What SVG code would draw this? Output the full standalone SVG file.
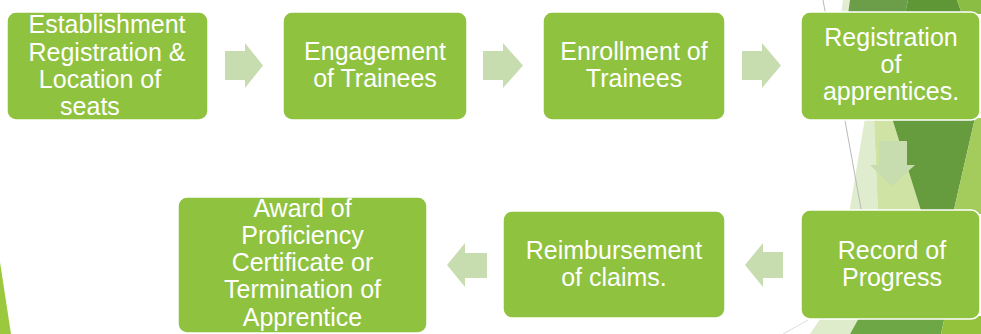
<svg xmlns="http://www.w3.org/2000/svg" width="981" height="334" viewBox="0 0 981 334">
<style>
.box{fill:#8fc23f;stroke:#ffffff;stroke-width:1.5}
.arr{fill:#c7ddb0}
.t{font-family:"Liberation Sans",Arial,sans-serif;font-size:25px;fill:#ffffff;text-anchor:middle}
</style>
<rect width="981" height="334" fill="#ffffff"/>
<g id="background">
<polygon points="0,262 11,334 0,334" fill="#9cc83f"/>
<polygon points="843,0 850,0 848,14 841,14" fill="#e3edd3"/>
<polygon points="850,0 908,0 905,14 848,14" fill="#6c9d48"/>
<polygon points="908,0 957,0 962,14 905,14" fill="#5f9636"/>
<polygon points="957,0 981,0 981,14 962,14" fill="#8bbd44"/>
<polygon points="865,118 874,118 878,214 849,214" fill="#e0ecce"/>
<polygon points="874,118 892,118 922,214 878,214" fill="#cfe3a5"/>
<polygon points="892,118 975,118 953,214 922,214" fill="#669b3e"/>
<polygon points="975,118 981,118 981,214 953,214" fill="#a3cc5c"/>
<line x1="823" y1="0" x2="862" y2="214" stroke="#b9b9b9" stroke-width="1"/>
<polygon points="822,316 860,316 850,334 810,334" fill="#dfeccb"/>
<polygon points="860,316 945,316 941,334 850,334" fill="#6ea846"/>
<polygon points="945,316 981,316 981,334 941,334" fill="#94c23d"/>
<line x1="783" y1="334" x2="808" y2="320" stroke="#dddddd" stroke-width="1"/>
</g>
<g id="connectors">
<polygon class="arr" points="225,51 245,51 245,43 263,65.5 245,88 245,80 225,80"/>
<polygon class="arr" points="483,51 503,51 503,43 523,65.5 503,88 503,80 483,80"/>
<polygon class="arr" points="742,51 762,51 762,43 781,65.5 762,88 762,80 742,80"/>
<polygon class="arr" points="879,141 907,141 907,165 915,165 892,186 870,165 879,165"/>
<polygon class="arr" points="783,252 763,252 763,243 745,265 763,287 763,278 783,278"/>
<polygon class="arr" points="487,253 465,253 465,243 447,265 465,287 465,278 487,278"/>
</g>
<g id="n1">
<rect class="box" x="7" y="12" width="201" height="108" rx="9"/>
<text class="t" x="107" y="33">Establishment</text>
<text class="t" x="107" y="61">Registration &amp;</text>
<text class="t" x="100" y="88">Location of</text>
<text class="t" x="90" y="115">seats</text>
</g>
<g id="n2">
<rect class="box" x="283" y="12" width="184" height="108" rx="9"/>
<text class="t" x="375" y="60">Engagement</text>
<text class="t" x="375" y="87">of Trainees</text>
</g>
<g id="n3">
<rect class="box" x="543" y="12" width="182" height="108" rx="9"/>
<text class="t" x="634" y="60">Enrollment of</text>
<text class="t" x="634" y="87">Trainees</text>
</g>
<g id="n4">
<rect class="box" x="801" y="12" width="179" height="108" rx="9"/>
<text class="t" x="891" y="46">Registration</text>
<text class="t" x="891" y="73">of</text>
<text class="t" x="891" y="100">apprentices.</text>
</g>
<g id="n5">
<rect class="box" x="801" y="210" width="179" height="109" rx="9"/>
<text class="t" x="892" y="259">Record of</text>
<text class="t" x="892" y="286">Progress</text>
</g>
<g id="n6">
<rect class="box" x="503" y="211" width="222" height="107" rx="9"/>
<text class="t" x="614" y="259">Reimbursement</text>
<text class="t" x="614" y="286">of claims.</text>
</g>
<g id="n7">
<rect class="box" x="178" y="197" width="249" height="136" rx="9"/>
<text class="t" x="302.5" y="217">Award of</text>
<text class="t" x="302.5" y="244">Proficiency</text>
<text class="t" x="302.5" y="271">Certificate or</text>
<text class="t" x="302.5" y="298">Termination of</text>
<text class="t" x="302.5" y="326">Apprentice</text>
</g>
</svg>
